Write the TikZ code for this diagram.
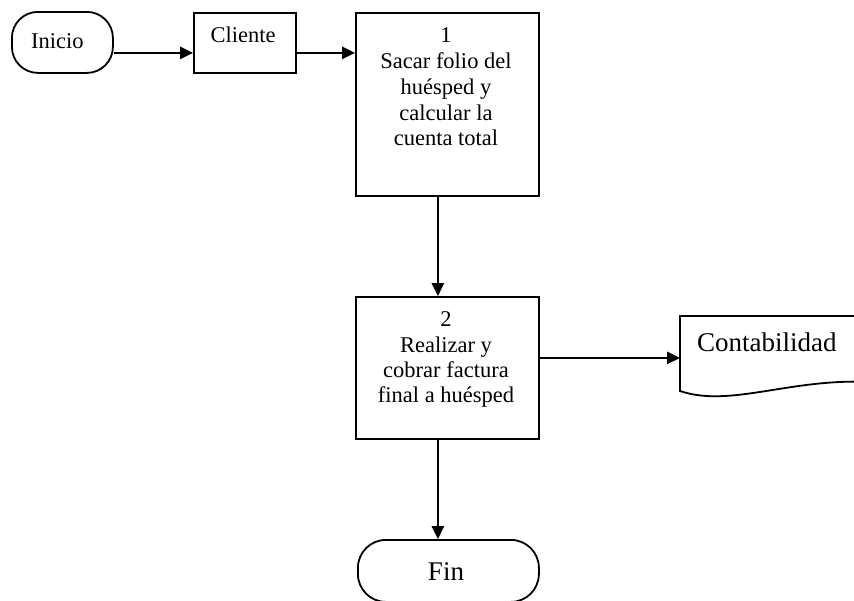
\documentclass[tikz,border=0pt]{standalone}
\usepackage{fontspec}
\setmainfont{Liberation Serif}
\usetikzlibrary{arrows.meta,calc}

\tikzset{
  shapeline/.style={draw=black,line width=1.8pt},
  procbox/.style={shapeline,rectangle,anchor=north west,inner sep=0pt},
  termbox/.style={shapeline,rectangle,anchor=north west,inner sep=0pt},
  txt/.style={inner sep=0pt,font=\fontsize{22.5}{25.5}\selectfont,align=center},
  bigtxt/.style={inner sep=0pt,font=\fontsize{27}{30}\selectfont},
  arr/.style={line width=1.5pt,-{Triangle[length=13pt,width=12.5pt]}}
}

\begin{document}
\begin{tikzpicture}[x=1pt,y=-1pt]
  \useasboundingbox (0,0) rectangle (854,600);
  \clip (0,0) rectangle (854,600);

  % start terminal
  \node[termbox,rounded corners=26pt,minimum width=101pt,minimum height=61pt] (ini) at (11,11) {};
  \node[txt,anchor=base west] (initxt) at (31,48) {Inicio};

  % client box
  \node[procbox,minimum width=102pt,minimum height=60pt] (cli) at (193,12) {};
  \node[txt,anchor=base] (clitxt) at (243,42) {Cliente};

  % step 1
  \node[procbox,minimum width=183pt,minimum height=183pt] (b1) at (355,12) {};
  \node[txt,anchor=base] (b1t0) at (446,42) {1};
  \node[txt,anchor=base] (b1t1) at (446,68) {Sacar folio del};
  \node[txt,anchor=base] (b1t2) at (446,94) {huésped y};
  \node[txt,anchor=base] (b1t3) at (446,120) {calcular la};
  \node[txt,anchor=base] (b1t4) at (446,145) {cuenta total};

  % step 2
  \node[procbox,minimum width=183pt,minimum height=142pt] (b2) at (355,296) {};
  \node[txt,anchor=base] (b2t0) at (446,326) {2};
  \node[txt,anchor=base] (b2t1) at (446,352) {Realizar y};
  \node[txt,anchor=base] (b2t2) at (446,377) {cobrar factura};
  \node[txt,anchor=base] (b2t3) at (446,402) {final a huésped};

  % document: Contabilidad
  \draw[shapeline,line join=miter] (680,391) -- (680,316) -- (900,316) -- (900,381)
        -- (870,382) .. controls (790,378) and (730,408) .. (680,391) -- cycle;
  \coordinate (docw) at (680,357);
  \node[bigtxt,anchor=base west] (doc) at (697,351) {Contabilidad};

  % end terminal
  \node[termbox,rounded corners=28pt,minimum width=181pt,minimum height=62pt] (fin) at (357,539) {};
  \node[bigtxt,anchor=base] (fintxt) at (446,580) {Fin};

  % connectors
  \coordinate (p1) at ([yshift=-10.5pt]ini.east);
  \draw[arr] (p1) -- (p1 -| cli.west);
  \coordinate (p2) at ([yshift=-10pt]cli.east);
  \draw[arr] (p2) -- (p2 -| b1.west);
  \coordinate (p3) at ([xshift=-9.5pt]b1.south);
  \draw[arr] (p3) -- (p3 |- b2.north);
  \coordinate (p4) at ([yshift=10pt]b2.east);
  \draw[arr] (p4) -- (p4 -| docw);
  \coordinate (p5) at ([xshift=-9.5pt]b2.south);
  \draw[arr] (p5) -- (p5 |- fin.north);
\end{tikzpicture}
\end{document}
